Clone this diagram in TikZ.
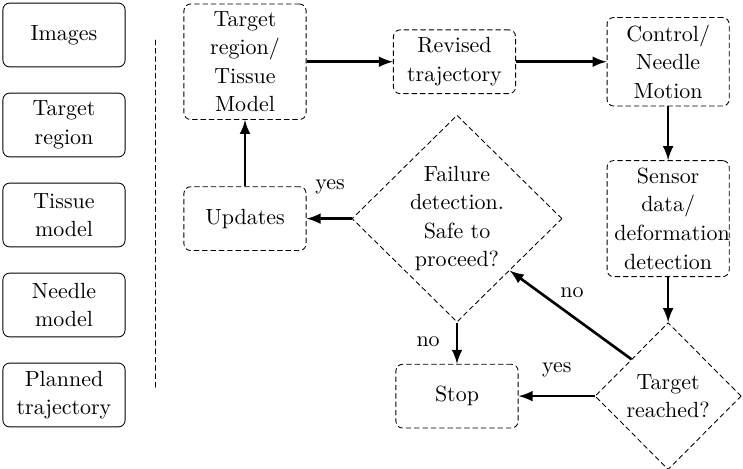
\documentclass[tikz,border=0pt]{standalone}
\usepackage{tikz}
\usetikzlibrary{shapes.geometric}
\def\boxtext{1.72cm}
\def\boxheight{1.02cm}

\begin{document}
\begin{tikzpicture}[line width=0.4pt, line cap=round,
    every node/.style={font=\fontsize{10}{13}\selectfont},
    shortdash/.style={dash pattern=on 2.2pt off 1.6pt},
    inputbox/.style={draw, rectangle, rounded corners=3pt, text width=\boxtext,
        minimum height=\boxheight, align=center},
    stepbox/.style={inputbox, shortdash},
    decision/.style={draw, diamond, shortdash, inner sep=0pt, align=center},
    flow/.style={-latex, very thick, line cap=butt}]

                 \useasboundingbox (0, 0) rectangle (11.888, 7.488);

                 % inputs
                 \node[inputbox] (images) at (1.024, 6.928) {Images};
                 \node[inputbox] (region) at (1.024, 5.488) {Target\\region};
                 \node[inputbox] (tissue) at (1.024, 4.048) {Tissue\\model};
                 \node[inputbox] (needle) at (1.024, 2.608) {Needle\\model};
                 \node[inputbox] (planned) at (1.024, 1.168) {Planned\\trajectory};

                 \coordinate (septop) at (2.48, 6.848);
                 \coordinate (sepbottom) at (2.48, 1.264);
                 \draw[shortdash] (septop) -- (sepbottom);

                 % loop
                 \node[stepbox] (model) at (3.92, 6.5) {Target\\region/\\Tissue\\Model};
                 \node[stepbox] (revised) at (7.272, 6.5) {Revised\\trajectory};
                 \node[stepbox] (control) at (10.69, 6.5) {Control/\\Needle\\Motion};
                 \node[stepbox] (sensor) at (10.69, 3.99) {Sensor\\data/\\deformation\\detection};
                 \node[stepbox] (updates) at (3.92, 3.99) {Updates};
                 \node[decision, minimum width=3.36cm, minimum height=3.31cm] (failure)
                 at (7.312, 3.99) {Failure\\detection.\\Safe to\\proceed?};
                 \node[stepbox] (stop) at (7.312, 1.15) {Stop};
                 \node[decision, minimum width=2.34cm, minimum height=2.35cm] (reached)
                 at (10.69, 1.15) {Target\\reached?};

                 \node (yesupdates) at (5.28, 4.5) {yes};
                 \node (nostop) at (6.85, 2.02) {no};
                 \node (yesstop) at (8.91, 1.57) {yes};
                 \node (nofailure) at (9.15, 2.8) {no};

                 \draw[flow] (updates) -- (model);
                 \draw[flow] (model) -- (revised);
                 \draw[flow] (revised) -- (control);
                 \draw[flow] (control) -- (sensor);
                 \draw[flow] (sensor) -- (reached);
                 \draw[flow] (reached) -- (stop);
                 \draw[flow] (reached.north west) -- (failure.south east);
                 \draw[flow] (failure) -- (updates);
                 \draw[flow] (failure) -- (stop);

             \end{tikzpicture}
\end{document}
